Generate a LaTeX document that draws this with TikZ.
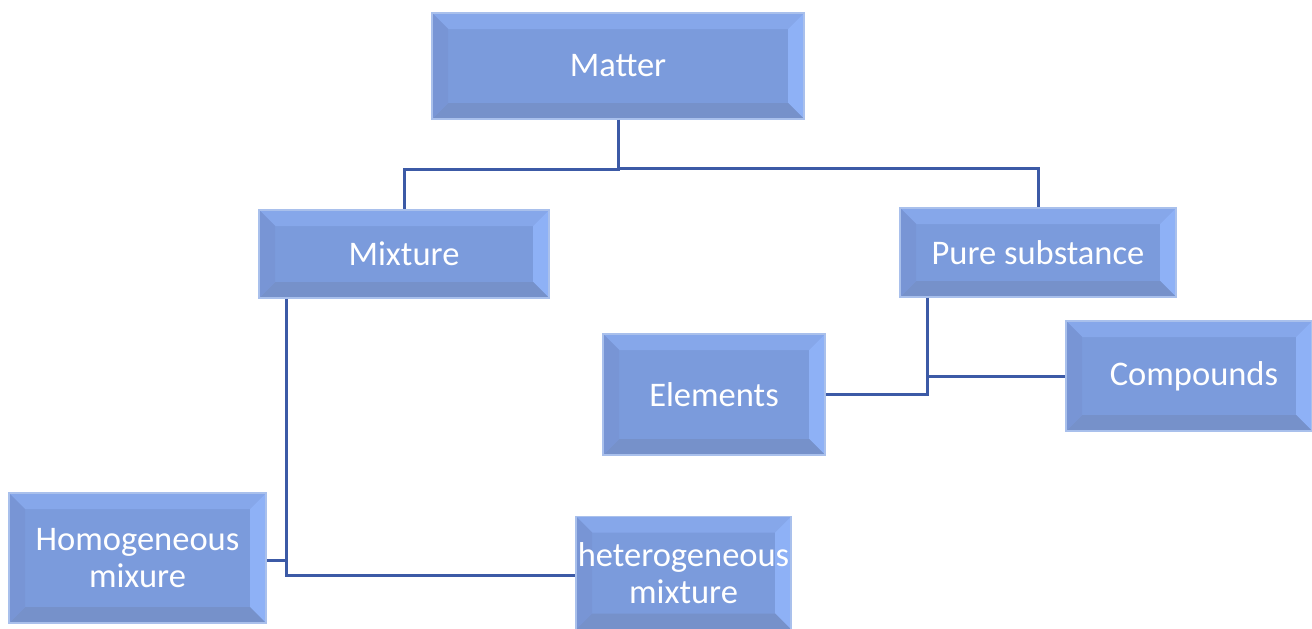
\documentclass[tikz,border=0pt]{standalone}
\usepackage{fontspec}
\setmainfont{Carlito}
\definecolor{boxfill}{HTML}{7B9BDC}
\definecolor{bevtop}{HTML}{86A7EA}
\definecolor{bevright}{HTML}{8EB1F6}
\definecolor{bevbottom}{HTML}{7691CA}
\definecolor{bevleft}{HTML}{7895D5}
\definecolor{boxedge}{HTML}{A9C0EC}
\definecolor{linkcol}{HTML}{3C5AA6}
\tikzset{
  bevbox/.style={rectangle, fill=boxfill, draw=boxedge, line width=1.5pt,
    inner sep=0pt, align=center, text=white,
    font=\fontsize{34.5}{37}\selectfont,
    path picture={
      \fill[bevtop] (path picture bounding box.north west) -- (path picture bounding box.north east)
        -- ([shift={(-16pt,-16pt)}]path picture bounding box.north east)
        -- ([shift={(16pt,-16pt)}]path picture bounding box.north west) -- cycle;
      \fill[bevright] (path picture bounding box.north east) -- (path picture bounding box.south east)
        -- ([shift={(-16pt,16pt)}]path picture bounding box.south east)
        -- ([shift={(-16pt,-16pt)}]path picture bounding box.north east) -- cycle;
      \fill[bevbottom] (path picture bounding box.south east) -- (path picture bounding box.south west)
        -- ([shift={(16pt,16pt)}]path picture bounding box.south west)
        -- ([shift={(-16pt,16pt)}]path picture bounding box.south east) -- cycle;
      \fill[bevleft] (path picture bounding box.south west) -- (path picture bounding box.north west)
        -- ([shift={(16pt,-16pt)}]path picture bounding box.north west)
        -- ([shift={(16pt,16pt)}]path picture bounding box.south west) -- cycle;
    }},
  link/.style={draw=linkcol, line width=3pt}
}
\begin{document}
\begin{tikzpicture}[x=1pt,y=-1pt]
\useasboundingbox (0,0) rectangle (1312,629);
\node[bevbox, minimum width=372pt, minimum height=106pt] (matter) at (618,66) {Matter};
\node[bevbox, minimum width=290pt, minimum height=88pt] (mixture) at (404,254) {Mixture};
\node[bevbox, minimum width=276pt, minimum height=89pt] (pure) at (1038,252.5) {Pure substance};
\node[bevbox, minimum width=222pt, minimum height=121pt] (elements) at (714,394.5) {Elements};
\node[bevbox, minimum width=246pt, minimum height=110pt] (compounds) at (1189,376) {\hspace*{10pt}Compounds};
\node[bevbox, minimum width=257pt, minimum height=130pt] (homo) at (137.5,558) {Homogeneous\\mixure};
\node[bevbox, minimum width=215pt, minimum height=113pt] (hetero) at (683.5,573) {heterogeneous\\mixture};
\draw[link] (matter.south) -- ++(0,50) -| (mixture.north);
\draw[link] (matter.south) -- ++(0,49) -| (pure.north);
\draw[link] ([xshift=28pt]pure.south west) |- (compounds.west);
\draw[link] ([xshift=28pt]pure.south west) |- (elements.east);
\draw[link] ([xshift=28pt]mixture.south west) |- ([yshift=-2pt]hetero.west);
\draw[link] ([xshift=28pt]mixture.south west) |- ([yshift=-2pt]homo.east);
\end{tikzpicture}
\end{document}
